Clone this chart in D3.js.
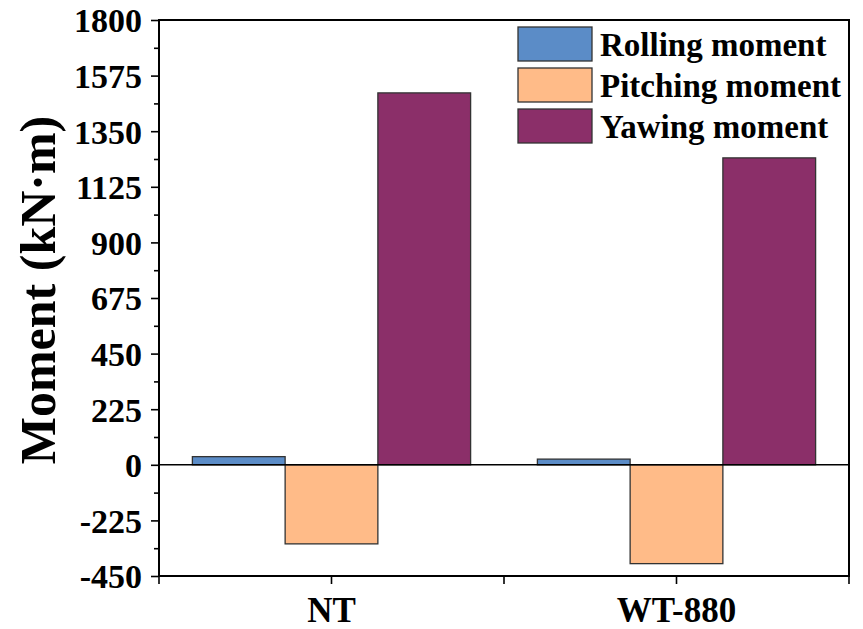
<!DOCTYPE html>
<html>
<head>
<meta charset="utf-8">
<script src="https://cdn.jsdelivr.net/npm/d3@7"></script>
<style>
  html, body { margin: 0; padding: 0; background: #fff; }
  svg { display: block; }
  text { font-family: "Liberation Serif", "Times New Roman", serif; font-weight: bold; fill: #000; }
</style>
</head>
<body>
<svg id="chart" width="863" height="629"></svg>
<script>
// Cases and moment components (kN·m)
const categories = ["NT", "WT-880"];
const seriesNames = ["Rolling moment", "Pitching moment", "Yawing moment"];
const rolling = [33, 23];
const pitching = [-320, -400];
const yawing = [1505, 1242];
const yTicks = [-450, -225, 0, 225, 450, 675, 900, 1125, 1350, 1575, 1800];
const colors = ["#5b8cc7", "#ffbb88", "#8b2f69"];

const series = [rolling, pitching, yawing];

const svg = d3.select("#chart");
const m = { left: 159, right: 849, top: 20, bottom: 576 };

const x = d3.scaleBand().domain(categories).range([m.left, m.right]).paddingInner(0).paddingOuter(0);
const inner = d3.scaleBand().domain(seriesNames).range([0, x.bandwidth()]).paddingInner(0).paddingOuter(0.36);
const y = d3.scaleLinear().domain([-450, 1800]).range([m.bottom, m.top]);

// bars
categories.forEach((c, ci) => {
  seriesNames.forEach((s, si) => {
    const v = series[si][ci];
    svg.append("rect")
      .attr("x", x(c) + inner(s))
      .attr("width", inner.bandwidth())
      .attr("y", y(Math.max(0, v)))
      .attr("height", Math.abs(y(v) - y(0)))
      .attr("fill", colors[si])
      .attr("stroke", "#333")
      .attr("stroke-width", 1.3);
  });
});

// zero line
svg.append("line")
  .attr("x1", m.left).attr("x2", m.right)
  .attr("y1", y(0)).attr("y2", y(0))
  .attr("stroke", "#000").attr("stroke-width", 1.6);

// left axis with minor ticks
const minor = d3.range(-450 + 112.5, 1800, 225);
svg.append("g").attr("transform", `translate(${m.left},0)`)
  .call(d3.axisLeft(y).tickValues(minor).tickSize(5).tickFormat(""))
  .call(g => g.select(".domain").remove())
  .call(g => g.selectAll("line").attr("stroke", "#000").attr("stroke-width", 1.6));
const yAxis = svg.append("g").attr("transform", `translate(${m.left},0)`)
  .call(d3.axisLeft(y).tickValues(yTicks).tickSize(8).tickPadding(9).tickFormat(d => String(d)));
yAxis.select(".domain").remove();
yAxis.selectAll("line").attr("stroke", "#000").attr("stroke-width", 1.6);
yAxis.selectAll("text").style("font-size", "34px").attr("dy", "0.35em");

// bottom axis: ticks at category centers and boundaries
const xTickPos = [m.left, x("NT") + x.bandwidth() / 2, x("WT-880"), x("WT-880") + x.bandwidth() / 2, m.right];
svg.append("g").selectAll("line").data(xTickPos).join("line")
  .attr("x1", d => d).attr("x2", d => d)
  .attr("y1", m.bottom).attr("y2", m.bottom + 8)
  .attr("stroke", "#000").attr("stroke-width", 1.6);
svg.append("g").selectAll("text").data(categories).join("text")
  .attr("x", d => x(d) + x.bandwidth() / 2)
  .attr("y", 622)
  .attr("text-anchor", "middle")
  .style("font-size", "35px")
  .text(d => d);

// frame
svg.append("rect")
  .attr("x", m.left).attr("y", m.top)
  .attr("width", m.right - m.left).attr("height", m.bottom - m.top)
  .attr("fill", "none").attr("stroke", "#000").attr("stroke-width", 2);

// y title
svg.append("text")
  .attr("transform", `translate(55,290) rotate(-90)`)
  .attr("text-anchor", "middle")
  .style("font-size", "50px")
  .text("Moment (kN·m)");

// legend
const leg = svg.append("g").attr("transform", "translate(518,27)");
seriesNames.forEach((s, i) => {
  const row = leg.append("g").attr("transform", `translate(0,${i * 41})`);
  row.append("rect").attr("width", 74).attr("height", 34)
    .attr("fill", colors[i]).attr("stroke", "#333").attr("stroke-width", 1.3);
  row.append("text").attr("x", 82).attr("y", 17).attr("dy", "0.35em")
    .style("font-size", "33px").text(s);
});
</script>
</body>
</html>
